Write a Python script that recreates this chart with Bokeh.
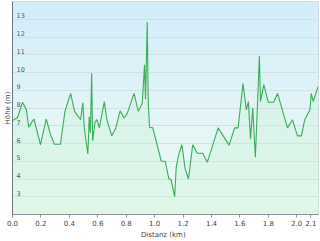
import numpy as np
from bokeh.plotting import figure
from bokeh.models import FixedTicker, Range1d
from bokeh.core.properties import value
from bokeh.embed import file_html
from bokeh.resources import INLINE

dist_km = [0.0, 0.035, 0.07, 0.098, 0.114, 0.151, 0.197, 0.237, 0.267, 0.295,
           0.337, 0.369, 0.409, 0.437, 0.479, 0.495, 0.505, 0.53, 0.54, 0.548,
           0.557, 0.564, 0.58, 0.595, 0.611, 0.646, 0.664, 0.699, 0.727, 0.757,
           0.785, 0.808, 0.855, 0.885, 0.913, 0.929, 0.936, 0.948, 0.955, 0.964,
           0.987, 1.047, 1.075, 1.099, 1.117, 1.141, 1.152, 1.169, 1.192, 1.214,
           1.238, 1.268, 1.3, 1.338, 1.371, 1.447, 1.524, 1.563, 1.587, 1.622,
           1.645, 1.66, 1.675, 1.69, 1.709, 1.737, 1.745, 1.768, 1.8, 1.837,
           1.865, 1.935, 1.97, 2.005, 2.033, 2.056, 2.093, 2.102, 2.116, 2.15]
hoehe_m = [7.3, 7.45, 8.32, 7.9, 6.92, 7.38, 5.93, 7.38, 6.51, 5.96,
           5.96, 7.81, 8.82, 7.81, 7.34, 8.3, 6.9, 5.41, 7.5, 6.6,
           9.96, 6.15, 7.2, 7.34, 6.88, 8.36, 7.34, 6.43, 6.88, 7.84,
           7.44, 7.71, 8.82, 7.81, 8.27, 10.44, 8.5, 12.83, 8.36, 6.92,
           6.88, 5.0, 5.0, 4.03, 3.94, 3.0, 4.68, 5.36, 5.93, 4.6,
           4.0, 5.93, 5.45, 5.45, 4.95, 6.88, 5.91, 6.88, 6.88, 9.37,
           7.9, 8.36, 6.24, 8.0, 5.23, 10.93, 8.36, 9.32, 8.32, 8.32,
           8.82, 6.88, 7.34, 6.43, 6.43, 7.34, 7.9, 8.82, 8.36, 9.2]

x_ticks = [0.0, 0.2, 0.4, 0.6, 0.8, 1.0, 1.2, 1.4, 1.6, 1.8, 2.0, 2.1]
y_ticks = [3, 4, 5, 6, 7, 8, 9, 10, 11, 12, 13]
y_tick_labels = [str(v) for v in y_ticks]

X_MIN, X_MAX = 0.0, 2.153
Y_MIN, Y_MAX = 2.0, 14.0

p = figure(width=320, height=241, output_backend="svg", toolbar_location=None,
           x_range=Range1d(X_MIN, X_MAX), y_range=Range1d(Y_MIN, Y_MAX),
           min_border_left=0, min_border_right=2, min_border_top=1, min_border_bottom=0)
p.background_fill_color = "white"
p.border_fill_color = "white"
p.outline_line_color = "#cfd6da"

# gradient background (light blue top -> light green bottom)
n = 100
top = np.array([210, 237, 250])
mid = np.array([226, 245, 248])
bot = np.array([238, 251, 243])
img = np.zeros((n, 1), dtype=np.uint32)
view = img.view(dtype=np.uint8).reshape((n, 1, 4))
for i in range(n):
    t = i / (n - 1)  # 0 bottom, 1 top
    if t < 0.5:
        c = bot + (mid - bot) * (t / 0.5)
    else:
        c = mid + (top - mid) * ((t - 0.5) / 0.5)
    view[i, 0, :3] = c.astype(np.uint8)
    view[i, 0, 3] = 255
bg = p.image_rgba(image=[img], x=X_MIN, y=Y_MIN, dw=X_MAX - X_MIN, dh=Y_MAX - Y_MIN)
bg.level = "image"

# area + line
p.varea(x=dist_km, y1=[Y_MIN] * len(dist_km), y2=hoehe_m,
        fill_color="#c9f0d3", fill_alpha=0.35)
p.line(dist_km, hoehe_m, line_color="#3aad57", line_width=1.1)

# grid
p.xgrid.visible = False
p.ygrid.ticker = FixedTicker(ticks=y_ticks)
p.ygrid.grid_line_color = "#d3dfe3"
p.ygrid.grid_line_width = 1.2

# x axis
p.xaxis.ticker = FixedTicker(ticks=x_ticks)
p.xaxis.major_label_overrides = {t: f"{t:.1f}" for t in x_ticks}
p.xaxis.axis_label = "Distanz   (km)"
p.xaxis.axis_label_text_font = "DejaVu Sans"
p.xaxis.axis_label_text_font_size = "7px"
p.xaxis.axis_label_text_font_style = "normal"
p.xaxis.axis_label_text_color = "#444444"
p.xaxis.axis_label_standoff = 2
p.xaxis.major_label_text_font = "DejaVu Sans"
p.xaxis.major_label_text_font_size = "7px"
p.xaxis.major_label_text_color = "#444444"
p.xaxis.major_label_standoff = 2
p.xaxis.major_tick_out = 3
p.xaxis.major_tick_in = 0
p.xaxis.minor_tick_out = 0
p.xaxis.minor_tick_in = 0
p.xaxis.axis_line_color = "#8a9296"
p.xaxis.major_tick_line_color = "#8a9296"

# y axis: labels drawn inside the plot
p.yaxis.ticker = FixedTicker(ticks=[])
p.yaxis.major_label_standoff = 0
p.yaxis.major_tick_out = 0
p.yaxis.major_tick_in = 0
p.yaxis.minor_tick_out = 0
p.yaxis.minor_tick_in = 0
p.yaxis.axis_line_color = "#6f777b"
p.yaxis.axis_label = "Höhe (m)"
p.yaxis.axis_label_text_font = "DejaVu Sans"
p.yaxis.axis_label_text_font_size = "7px"
p.yaxis.axis_label_text_font_style = "normal"
p.yaxis.axis_label_text_color = "#444444"
p.yaxis.axis_label_standoff = 1

p.text(x=[X_MIN] * len(y_ticks), y=y_ticks, text=y_tick_labels,
       x_offset=4, y_offset=-1, text_baseline="bottom", text_align="left",
       text_font=value("DejaVu Sans"), text_font_size="6.5px", text_color="#555555")

open("out.html", "w").write(file_html(p, INLINE))
